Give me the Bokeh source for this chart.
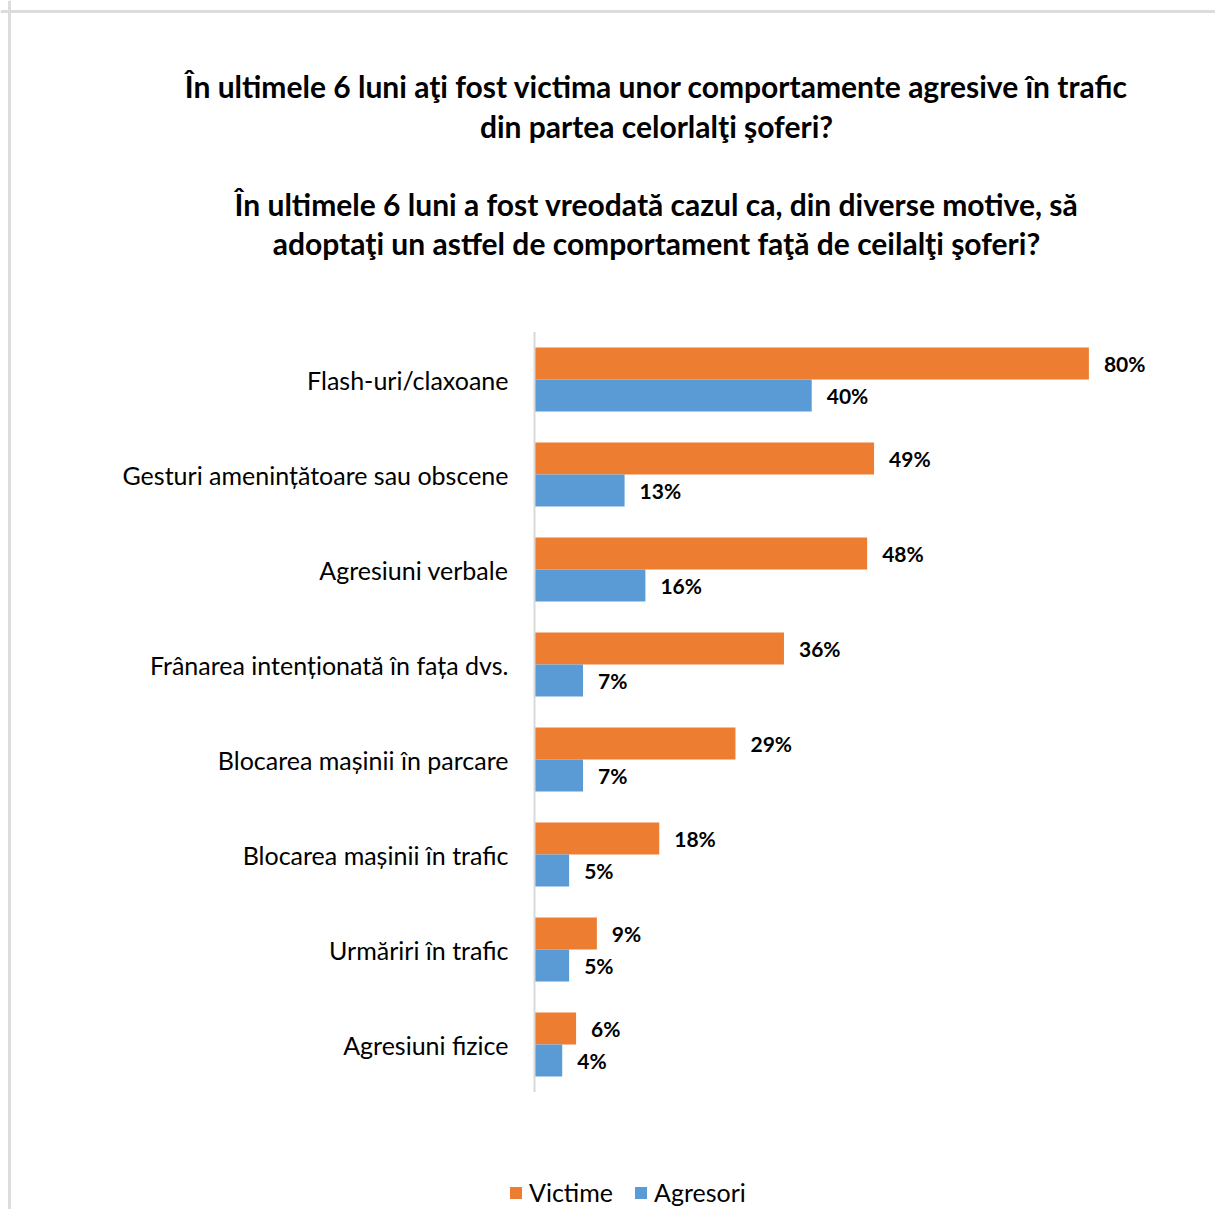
from bokeh.plotting import figure
from bokeh.models import ColumnDataSource, Range1d, Legend, LegendItem, Span
from bokeh.transform import dodge
from bokeh.core.properties import value
from bokeh.embed import file_html
from bokeh.resources import INLINE

# ---------------- data ----------------
categories = [
    "Flash-uri/claxoane",
    "Gesturi amenințătoare sau obscene",
    "Agresiuni verbale",
    "Frânarea intenționată în fața dvs.",
    "Blocarea mașinii în parcare",
    "Blocarea mașinii în trafic",
    "Urmăriri în trafic",
    "Agresiuni fizice",
]
victime = [80, 49, 48, 36, 29, 18, 9, 6]
agresori = [40, 13, 16, 7, 7, 5, 5, 4]
series_names = ["Victime", "Agresori"]
title_lines = [
    "În ultimele 6 luni aţi fost victima unor comportamente agresive în trafic",
    "din partea celorlalţi şoferi?",
    "În ultimele 6 luni a fost vreodată cazul ca, din diverse motive, să",
    "adoptaţi un astfel de comportament faţă de ceilalţi şoferi?",
]

# ---------------- layout constants ----------------
W, H = 1215, 1209
X0 = 534.0      # canvas px of value 0
PXU = 6.93      # px per percent
Y0 = 379.0      # canvas px of first category centre
BAND = 95.0     # px per category

def xd(cx):
    return (cx - X0) / PXU

def yd(cy):
    return -(cy - Y0) / BAND

ORANGE = "#ED7D31"
BLUE = "#5B9BD5"
FONT = "Lato"

p = figure(width=W, height=H, output_backend="svg", toolbar_location=None,
           x_range=Range1d(xd(0), xd(W)), y_range=Range1d(yd(H), yd(0)),
           x_axis_location=None, y_axis_location=None, title=None,
           min_border=0, tools="")
p.grid.visible = False
p.outline_line_color = None
p.background_fill_color = "white"
p.border_fill_color = "white"

ypos = [-i for i in range(len(categories))]
bar_h = 32.0 / BAND
off = bar_h / 2

src = ColumnDataSource(dict(
    y=ypos, cat=categories, v=victime, a=agresori,
    vl=[f"{v}%" for v in victime], al=[f"{a}%" for a in agresori],
    vx=[v + 15 / PXU for v in victime], ax=[a + 15 / PXU for a in agresori],
))

r_v = p.hbar(y=dodge("y", off), right="v", left=0, height=bar_h, source=src,
             fill_color=ORANGE, line_color=None)
r_a = p.hbar(y=dodge("y", -off), right="a", left=0, height=bar_h, source=src,
             fill_color=BLUE, line_color=None)

# value labels
for xc, lc, o in (("vx", "vl", off), ("ax", "al", -off)):
    p.text(x=xc, y=dodge("y", o), text=lc, source=src,
           text_font=value(FONT), text_font_style="bold", text_font_size="21px",
           text_color="#000000", text_baseline="middle", text_align="left")

# category labels
p.text(x=xd(508), y="y", text="cat", source=src,
       text_font=value(FONT), text_font_size="25px", text_color="#000000",
       text_align="right", text_baseline="middle")

# vertical axis line
p.segment(x0=[0], x1=[0], y0=[0.5], y1=[-len(categories) + 0.5],
          line_color="#d9d9d9", line_width=2)

# titles
title_y = [85, 125, 203, 242]
tsrc = ColumnDataSource(dict(x=[xd(656)] * 4, y=[yd(c) for c in title_y], t=title_lines))
p.text(x="x", y="y", text="t", source=tsrc, text_font=value(FONT),
       text_font_style="bold", text_font_size="30px", text_color="#000000",
       text_align="center", text_baseline="middle")

# outer border (left and top visible)
p.add_layout(Span(location=xd(9), dimension="height", line_color="#dcdcdc", line_width=3))
p.add_layout(Span(location=yd(11), dimension="width", line_color="#dcdcdc", line_width=3))

legend = Legend(items=[LegendItem(label=series_names[0], renderers=[r_v]),
                       LegendItem(label=series_names[1], renderers=[r_a])],
                orientation="horizontal", location=(508, 2),
                label_text_font=FONT, label_text_font_size="25px",
                label_text_color="#000000",
                glyph_width=15, glyph_height=15, label_standoff=6, spacing=20,
                padding=0, margin=0, border_line_color=None,
                background_fill_alpha=0)
p.add_layout(legend)

open("out.html", "w").write(file_html(p, INLINE))
